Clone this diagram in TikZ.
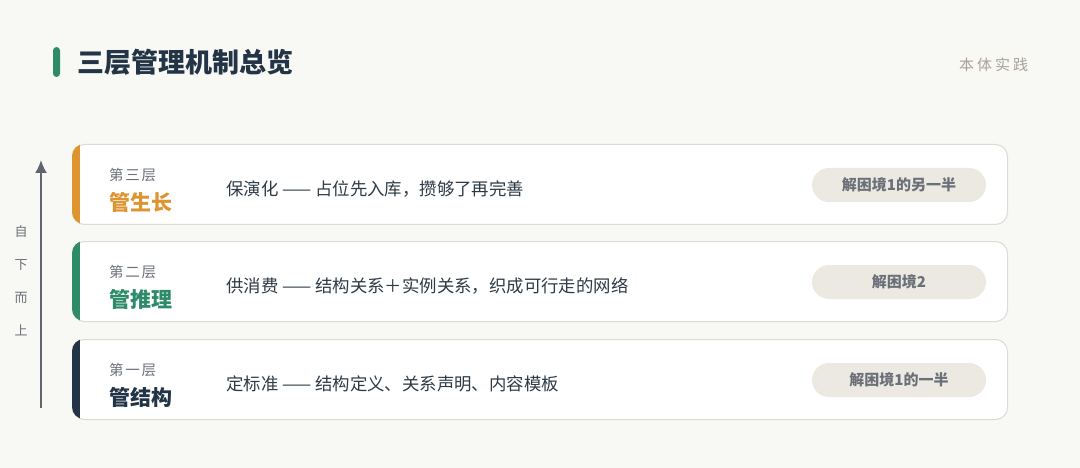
\documentclass[tikz,border=0pt]{standalone}
\usepackage{fontspec}
\usetikzlibrary{arrows.meta}
\setmainfont{Noto Sans CJK SC}
\definecolor{bg}{HTML}{F8F8F4}
\definecolor{ink}{HTML}{233447}
\definecolor{txt}{HTML}{2E3A46}
\definecolor{muted}{HTML}{6B717A}
\definecolor{cardline}{HTML}{DCDCD6}
\definecolor{pill}{HTML}{ECE9E3}
\definecolor{pilltxt}{HTML}{6B7078}
\definecolor{lorange}{HTML}{DE9430}
\definecolor{lgreen}{HTML}{2E8B6A}
\definecolor{sub}{HTML}{A8A29A}
\definecolor{arrowc}{HTML}{5F6670}
\newcommand{\spaced}[2]{\addfontfeatures{LetterSpace=#1}#2}
\begin{document}
\begin{tikzpicture}[x=1pt,y=-1pt,
  card/.style={draw=cardline,line width=1pt,fill=white,rounded corners=12pt},
  layertxt/.style={anchor=west,font=\fontsize{14.5}{16}\selectfont\addfontfeatures{LetterSpace=12},text=muted,inner sep=0pt},
  lname/.style={anchor=west,font=\fontsize{21}{24}\selectfont\bfseries,inner sep=0pt},
  desc/.style={anchor=west,font=\fontsize{17.4}{20}\selectfont,text=txt,inner sep=0pt},
  pillbox/.style={fill=pill,rounded corners=17pt,minimum width=174pt,minimum height=34pt,inner sep=0pt,font=\fontsize{15}{17}\selectfont\bfseries,text=pilltxt},
  side/.style={font=\fontsize{13}{15}\selectfont,text=muted,inner sep=0pt}]
\useasboundingbox (0,0) rectangle (1080,468);
\fill[bg] (0,0) rectangle (1080,468);
% title
\fill[lgreen,rounded corners=3.5pt] (53,47) rectangle (60,77);
\node[anchor=west,inner sep=0pt,font=\fontsize{27}{30}\selectfont\bfseries,text=ink] (title) at (77,62) {三层管理机制总览};
\node[anchor=west,inner sep=0pt,font=\fontsize{15}{17}\selectfont\addfontfeatures{LetterSpace=20},text=sub] (tag) at (959,65) {本体实践};
% arrow
\coordinate (abot) at (41,408);
\coordinate (atop) at (41,160);
\draw[arrowc,line width=2pt,-{Latex[length=13pt,width=12pt]}] (abot) -- (atop);
\node[side] (s1) at (21,232) {自};
\node[side] (s2) at (21,265) {下};
\node[side] (s3) at (21,298) {而};
\node[side] (s4) at (21,330) {上};
% cards
\foreach \t/\col/\lay/\nm/\ds/\pl [count=\i] in {
  144/lorange/第三层/管生长/{保演化 —— 占位先入库，攒够了再完善}/解困境1的另一半,
  241/lgreen/第二层/管推理/{供消费 —— 结构关系＋实例关系，织成可行走的网络}/解困境2,
  339/ink/第一层/管结构/{定标准 —— 结构定义、关系声明、内容模板}/解困境1的一半}{
  \node[card,minimum width=935pt,minimum height=80pt,anchor=north west,inner sep=0pt] (card\i) at (72,\t) {};
  \begin{scope}
    \clip[rounded corners=12pt] (72,\t) rectangle (1007,\t+80);
    \fill[\col] (72,\t) rectangle (80,\t+80);
  \end{scope}
  \node[layertxt] (lay\i) at (109,\t+31) {\lay};
  \node[lname,text=\col] (nm\i) at (109,\t+58) {\nm};
  \node[desc] (ds\i) at (226,\t+45) {\ds};
  \node[pillbox] (pl\i) at (899,\t+41) {\pl};
}
\end{tikzpicture}
\end{document}
